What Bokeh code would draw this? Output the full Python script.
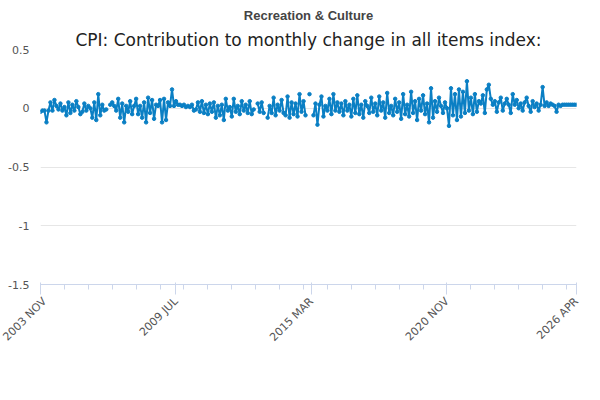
import math
from bokeh.plotting import figure
from bokeh.models import FixedTicker, Legend, LegendItem, ColumnDataSource, Title, Label
from bokeh.embed import file_html
from bokeh.resources import INLINE

N = float('nan')
values = [
 -0.03,-0.02,-0.02,-0.12,-0.02,0.05,-0.02,0.07,0.02,-0.01,0.04,-0.02,
 0.01,-0.06,0.05,-0.04,0.03,-0.02,0.06,0.01,-0.05,-0.03,0.04,-0.02,
 0.02,0.0,-0.08,0.05,-0.1,0.12,-0.06,0.03,-0.02,-0.01,N,0.03,
 0.05,0.02,-0.02,0.08,-0.08,0.04,-0.12,0.02,-0.03,0.06,-0.05,0.02,
 0.08,-0.05,0.02,-0.08,0.05,-0.12,0.09,-0.04,0.07,-0.09,0.03,0.02,
 0.07,-0.12,0.08,-0.1,0.05,0.02,0.16,0.02,0.06,0.03,0.03,0.02,
 0.03,0.01,0.02,0.01,0.03,-0.02,-0.01,0.05,-0.03,0.06,-0.04,0.03,
 -0.05,0.04,-0.03,0.05,-0.08,0.02,-0.06,0.03,-0.1,0.08,-0.02,0.01,
 -0.07,0.08,-0.03,0.02,-0.05,0.06,-0.02,0.03,-0.04,0.06,-0.05,-0.01,
 N,0.04,-0.03,0.05,-0.04,N,-0.08,0.02,-0.04,0.09,-0.06,0.03,
 -0.02,0.07,-0.04,-0.06,0.1,-0.08,0.05,-0.05,0.04,-0.07,0.12,-0.03,
 0.06,-0.06,N,0.12,N,-0.06,0.04,-0.14,0.03,0.1,-0.07,0.02,
 -0.02,0.08,-0.05,0.12,-0.02,0.05,-0.03,0.04,-0.06,0.06,-0.02,0.03,
 -0.07,0.08,-0.04,0.11,-0.05,0.03,-0.08,0.06,0.02,-0.04,0.09,-0.03,
 0.04,-0.06,0.1,-0.02,0.05,-0.08,0.13,-0.04,0.02,-0.06,0.08,-0.03,
 0.05,-0.09,0.12,-0.05,0.03,-0.07,0.14,-0.04,0.06,-0.1,0.08,-0.02,
 0.11,-0.05,0.04,-0.12,0.17,-0.08,0.06,-0.03,0.09,0.02,-0.04,0.05,
 0.0,-0.15,0.17,-0.06,0.12,-0.1,0.16,-0.07,0.14,-0.04,0.23,-0.02,
 0.09,-0.05,0.12,-0.03,0.06,0.04,0.11,-0.04,0.16,0.2,0.08,0.03,
 0.06,-0.03,0.05,0.09,-0.02,0.04,0.08,0.03,-0.04,0.12,0.03,0.07,
 0.0,0.04,-0.02,0.05,0.09,0.02,-0.03,0.06,0.01,0.04,-0.02,0.03,
 0.18,0.02,0.05,0.02,0.04,0.03,0.02,-0.03,0.03,0.02,0.03,0.03,
 0.03,0.03,0.03,0.03,0.03,0.03,
]
tick_pos = [0, 68, 136, 204, 269]
tick_labels = ["2003 NOV", "2009 JUL", "2015 MAR", "2020 NOV", "2026 APR"]
series_name = "CPI: Contribution to monthly change in all items index: Recreation & Culture"

x = list(range(len(values)))
src = ColumnDataSource(dict(x=x, y=values))

p = figure(width=584, height=384, output_backend="svg", toolbar_location=None,
           x_range=(0, len(values) - 1), y_range=(-1.5, 0.5),
           min_border_left=40, min_border_right=8, min_border_bottom=100, min_border_top=4)
p.title.text = "Recreation & Culture"
for t in (p.title,):
    t.align = "center"
p.add_layout(Title(text="CPI: Contribution to monthly change in all items index:", align="center"), "above")
for t in p.above:
    t.text_font = "DejaVu Sans"
    t.text_font_size = "17px"
    t.text_font_style = "normal"
    t.text_color = "#222222"
    t.standoff = 0
p.outline_line_color = None

p.yaxis.ticker = FixedTicker(ticks=[-1.5, -1, -0.5, 0, 0.5])
p.yaxis.major_label_overrides = {-1.5: "-1.5", -1: "-1", -0.5: "-0.5", 0: "0", 0.5: "0.5"}
p.yaxis.axis_line_color = None
p.yaxis.major_tick_line_color = None
p.yaxis.minor_tick_line_color = None
p.xaxis.ticker = FixedTicker(ticks=tick_pos, minor_ticks=list(range(0, len(values), 12)))
p.xaxis.major_label_overrides = {t: l for t, l in zip(tick_pos, tick_labels)}
p.xaxis.major_label_orientation = math.pi / 4
p.xaxis.axis_line_color = "#ccd6eb"
p.xaxis.major_tick_line_color = "#ccd6eb"
p.xaxis.minor_tick_line_color = "#ccd6eb"
p.xaxis.major_tick_out = 10
p.xaxis.minor_tick_out = 5
for ax in (p.xaxis, p.yaxis):
    ax.major_label_text_font = "DejaVu Sans"
    ax.major_label_text_font_size = "11px"
    ax.major_label_text_color = "#555555"
p.xgrid.grid_line_color = None
p.ygrid.grid_line_color = "#e6e6e6"

r = p.line("x", "y", source=src, color="#0a7fc4", line_width=2)
c = p.scatter("x", "y", source=src, color="#0a7fc4", size=3.5)

p.add_layout(Label(x=-37, y=230, x_units="screen", y_units="screen", text="%",
                   text_font="DejaVu Sans", text_font_size="11px", text_color="#555555"))
p.add_layout(Label(x=540, y=-96, x_units="screen", y_units="screen", text="Source:",
                   text_font="DejaVu Sans", text_font_size="12px", text_color="#555555",
                   text_align="right"))

leg = Legend(items=[LegendItem(label=series_name, renderers=[r, c])],
             location=(-28, -88), orientation="horizontal", border_line_color=None,
             background_fill_alpha=0,
             label_text_font="DejaVu Sans", label_text_font_size="12px",
             label_text_font_style="bold", label_text_color="#333333",
             glyph_width=16, padding=0, margin=0)
p.add_layout(leg, "center")

open("out.html", "w").write(file_html(p, INLINE))
